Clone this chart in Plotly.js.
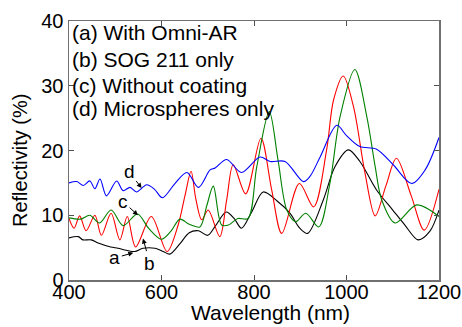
<!DOCTYPE html>
<html>
<head>
<meta charset="utf-8">
<script src="https://cdn.plot.ly/plotly-3.0.1.min.js"></script>
<style>
html,body{margin:0;padding:0;background:#fff;}
#chart{width:462px;height:327px;}
</style>
</head>
<body>
<div id="chart"></div>
<script>
// ---- data ----
const seriesNames = ["a", "b", "c", "d"];
const legendLabels = ["(a) With Omni-AR", "(b) SOG 211 only", "(c) Without coating", "(d) Microspheres only"];

const xA = [400, 420, 430, 448, 463, 490, 506, 524, 542, 560, 586, 604, 618, 640, 660, 680, 700, 717, 740, 757, 773, 795, 820, 850, 878, 899, 916, 950, 975, 1004, 1029, 1065, 1100, 1125, 1155, 1180, 1200];
const yA = [6.5, 6.7, 6.2, 6.2, 5.7, 5.1, 4.9, 4.6, 4.4, 4.9, 4.9, 4.4, 4.0, 5.6, 7.3, 7.6, 6.9, 8.4, 10.5, 9.5, 8.0, 10.5, 13.6, 12.2, 10.3, 8.0, 7.2, 12.4, 17.5, 20.1, 18.3, 13.9, 10.8, 8.6, 6.2, 7.5, 10.8];

const xB = [400, 411, 423, 437, 456, 470, 491, 510, 526, 544, 578, 612, 636, 651, 664, 674, 687, 701, 726, 741, 755, 782, 815, 838, 860, 898, 929, 957, 972, 993, 1015, 1040, 1062, 1085, 1108, 1140, 1168, 1200];
const yB = [9.5, 8.0, 9.9, 7.6, 10.0, 6.9, 10.3, 6.2, 9.8, 5.1, 9.8, 4.4, 8.5, 13.1, 16.8, 12.6, 9.3, 10.8, 6.7, 12.4, 17.8, 13.3, 21.9, 14.0, 7.2, 14.9, 11.3, 20.1, 27.8, 31.5, 26.8, 16.5, 9.9, 14.5, 18.8, 13.0, 7.7, 14.0];

const xC = [400, 425, 445, 466, 491, 517, 548, 572, 600, 620, 640, 660, 683, 698, 712, 730, 745, 765, 787, 806, 833, 852, 871, 890, 912, 940, 964, 986, 1018, 1044, 1062, 1076, 1105, 1152, 1200];
const yC = [9.6, 9.4, 10.0, 8.8, 10.8, 8.4, 10.2, 8.0, 6.3, 7.5, 9.4, 8.6, 8.2, 11.5, 14.5, 8.5, 8.5, 9.5, 9.5, 17.5, 26.0, 18.5, 10.8, 9.0, 10.3, 8.2, 14.9, 25.2, 32.5, 25.2, 17.5, 12.4, 8.8, 11.6, 9.8];

const xD = [400, 417, 431, 445, 456, 467, 481, 503, 517, 532, 546, 568, 585, 602, 629, 655, 680, 705, 716, 741, 773, 813, 835, 867, 907, 921, 943, 979, 1000, 1029, 1065, 1101, 1141, 1170, 1200];
const yD = [15.0, 15.2, 14.6, 15.3, 14.1, 15.6, 13.0, 15.3, 13.8, 14.3, 13.6, 14.7, 14.0, 12.7, 14.9, 16.6, 14.3, 17.0, 17.3, 18.6, 16.6, 19.0, 18.3, 18.3, 15.2, 16.0, 19.0, 23.9, 22.3, 20.6, 20.2, 17.8, 14.9, 17.0, 22.0];

const xTicks = [400, 600, 800, 1000, 1200];
const yTicks = [0, 10, 20, 30, 40];

// arrow labels: head point on the curve and the label position (data units)
const labelHeadX = [539, 560, 549, 557];
const labelHeadY = [4.2, 6.4, 10.0, 14.2];
const labelTextX = [499, 575, 517, 530];
const labelTextY = [3.4, 2.6, 12.1, 16.7];

// ---- styling ----
const colors = ["#000000", "#ff0000", "#008000", "#0000ff"];
const FONT = "Arial, 'Liberation Sans', sans-serif";
const xs = [xA, xB, xC, xD];
const ys = [yA, yB, yC, yD];

const traces = seriesNames.map((n, i) => ({
  x: xs[i], y: ys[i], type: "scatter", mode: "lines", name: n,
  line: {color: colors[i], width: 1.1, shape: "spline", smoothing: 0.9},
  hoverinfo: "skip"
}));

const legendY = [0.9575, 0.853, 0.751, 0.664];
const annotations = [];
legendLabels.forEach((t, i) => annotations.push({
  xref: "paper", yref: "paper", x: 0.004, y: legendY[i], xanchor: "left", yanchor: "middle",
  text: t, showarrow: false, font: {family: FONT, size: 21, color: "#000"}
}));
seriesNames.forEach((n, i) => annotations.push({
  xref: "x", yref: "y", x: labelHeadX[i], y: labelHeadY[i],
  axref: "x", ayref: "y", ax: labelTextX[i], ay: labelTextY[i],
  text: n, showarrow: true, arrowhead: 2, arrowsize: 1, arrowwidth: 1, arrowcolor: "#000",
  standoff: 0, font: {family: FONT, size: 19, color: "#000"}
}));
annotations.push({
  xref: "paper", yref: "paper", x: 0.5446, y: -0.126, xanchor: "center", yanchor: "middle",
  text: "Wavelength (nm)", showarrow: false, font: {family: FONT, size: 21, color: "#000"}
});
annotations.push({
  xref: "paper", yref: "paper", x: -0.1324, y: 0.4595, xanchor: "center", yanchor: "middle",
  text: "Reflectivity (%)", textangle: -90, showarrow: false, font: {family: FONT, size: 20, color: "#000"}
});

const axisCommon = {
  showgrid: false, zeroline: false, showline: true, linecolor: "#707070", linewidth: 1.5,
  mirror: "ticks", ticks: "inside", ticklen: 5, tickwidth: 1, tickcolor: "#505050",
  tickfont: {family: FONT, size: 20, color: "#000"}
};

const layout = {
  width: 462, height: 327,
  margin: {l: 69, r: 23, t: 21, b: 47, pad: 0},
  paper_bgcolor: "#fff", plot_bgcolor: "#fff",
  showlegend: false,
  xaxis: Object.assign({}, axisCommon, {range: [400, 1200], tickvals: xTicks, ticktext: xTicks.map(String), ticklabelstandoff: -7}),
  yaxis: Object.assign({}, axisCommon, {range: [0, 40], tickvals: yTicks, ticktext: yTicks.map(String)}),
  annotations: annotations
};

Plotly.newPlot("chart", traces, layout, {staticPlot: true, displayModeBar: false});
</script>
</body>
</html>
